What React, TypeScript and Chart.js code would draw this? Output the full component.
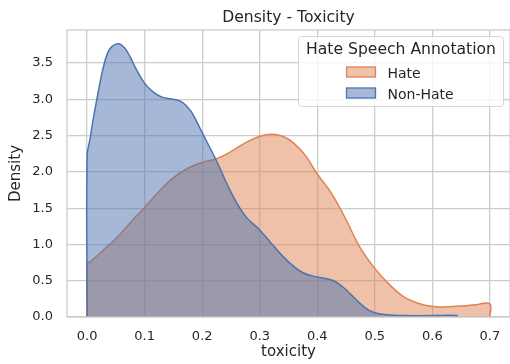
import React, { useEffect, useRef } from "react";
import { Chart, registerables } from "chart.js";

Chart.register(...registerables);

const chartTitle = "Density - Toxicity";
const xAxisLabel = "toxicity";
const yAxisLabel = "Density";
const legendTitle = "Hate Speech Annotation";
const seriesLabels = ["Hate", "Non-Hate"];

// Hate (orange) KDE curve
const hateX = [0, 0, 0.005, 0.025, 0.05, 0.075, 0.1, 0.125, 0.15, 0.175, 0.2, 0.225, 0.25, 0.275, 0.3, 0.32, 0.34, 0.36, 0.38, 0.4, 0.425, 0.45, 0.475, 0.5, 0.525, 0.55, 0.575, 0.6, 0.625, 0.65, 0.675, 0.7, 0.7];
const hateY = [0, 0.74, 0.76, 0.9, 1.08, 1.3, 1.51, 1.73, 1.92, 2.05, 2.13, 2.18, 2.28, 2.4, 2.49, 2.52, 2.49, 2.39, 2.22, 1.97, 1.7, 1.34, 0.95, 0.67, 0.45, 0.28, 0.19, 0.145, 0.14, 0.15, 0.17, 0.18, 0];

// Non-Hate (blue) KDE curve
const nonHateX = [0, 0, 0.005, 0.01, 0.02, 0.03, 0.04, 0.054, 0.065, 0.075, 0.085, 0.1, 0.115, 0.13, 0.15, 0.165, 0.18, 0.19, 0.2, 0.225, 0.25, 0.275, 0.3, 0.325, 0.35, 0.375, 0.4, 0.425, 0.445, 0.47, 0.49, 0.51, 0.55, 0.6, 0.643, 0.643];
const nonHateY = [0, 2.23, 2.45, 2.7, 3.13, 3.5, 3.7, 3.767, 3.71, 3.58, 3.42, 3.22, 3.1, 3.03, 3.0, 2.96, 2.84, 2.7, 2.54, 2.15, 1.72, 1.39, 1.2, 0.97, 0.76, 0.61, 0.55, 0.51, 0.41, 0.22, 0.09, 0.04, 0.02, 0.02, 0.02, 0];

const xRange = [-0.035, 0.735];
const yRange = [0, 3.955];
const xStep = 0.1;
const yStep = 0.5;

const colors = ["#DD8452", "#4C72B0"];
const fills = ["rgba(221,132,82,0.5)", "rgba(76,114,176,0.5)"];

const FONT = "'DejaVu Sans', sans-serif";
const TEXT = "#262626";
const GRID = "#cccccc";

const toPoints = (xs: number[], ys: number[]) => xs.map((x, i) => ({ x, y: ys[i] }));

const decorPlugin = {
  id: "decor",
  afterDatasetsDraw(chart: any) {
    const { ctx, chartArea: a } = chart;
    ctx.save();
    ctx.strokeStyle = GRID;
    ctx.lineWidth = 1.3;
    ctx.strokeRect(a.left, a.top, a.right - a.left, a.bottom - a.top);
    ctx.restore();
  },
  afterDraw(chart: any) {
    const { ctx, chartArea: a } = chart;
    ctx.save();
    ctx.fillStyle = TEXT;
    ctx.font = `15.6px ${FONT}`;
    ctx.textAlign = "center";
    ctx.textBaseline = "alphabetic";
    ctx.fillText(chartTitle, (a.left + a.right) / 2, 22);

    const bx = a.right - 211.5;
    const by = a.top + 6.5;
    const bw = 205;
    const bh = 70;
    ctx.beginPath();
    if ((ctx as any).roundRect) (ctx as any).roundRect(bx, by, bw, bh, 3);
    else ctx.rect(bx, by, bw, bh);
    ctx.fillStyle = "rgba(255,255,255,0.8)";
    ctx.fill();
    ctx.strokeStyle = "#d6d6d6";
    ctx.lineWidth = 1;
    ctx.stroke();

    ctx.fillStyle = TEXT;
    ctx.font = `15.6px ${FONT}`;
    ctx.textAlign = "center";
    ctx.fillText(legendTitle, bx + bw / 2, by + 17);

    ctx.font = `14px ${FONT}`;
    ctx.textAlign = "left";
    seriesLabels.forEach((lab, i) => {
      const ry = by + 30.5 + i * 21;
      ctx.fillStyle = fills[i];
      ctx.fillRect(bx + 48, ry, 29, 10);
      ctx.strokeStyle = colors[i];
      ctx.lineWidth = 1.3;
      ctx.strokeRect(bx + 48, ry, 29, 10);
      ctx.fillStyle = TEXT;
      ctx.fillText(lab, bx + 89, ry + 10.5);
    });
    ctx.restore();
  },
};

export default function App() {
  const ref = useRef<HTMLCanvasElement | null>(null);
  useEffect(() => {
    if (!ref.current) return;
    const zeroPad = (s: any) => {
      s.paddingLeft = 0;
      s.paddingRight = 0;
      s.paddingTop = 0;
      s.paddingBottom = 0;
    };
    const chart = new Chart(ref.current, {
      type: "line",
      data: {
        datasets: [
          {
            label: seriesLabels[0],
            data: toPoints(hateX, hateY),
            borderColor: colors[0],
            backgroundColor: fills[0],
            borderWidth: 1.5,
            fill: "origin",
            pointRadius: 0,
            tension: 0.4,
            order: 2,
          },
          {
            label: seriesLabels[1],
            data: toPoints(nonHateX, nonHateY),
            borderColor: colors[1],
            backgroundColor: fills[1],
            borderWidth: 1.5,
            fill: "origin",
            pointRadius: 0,
            tension: 0.4,
            order: 1,
          },
        ],
      },
      options: {
        animation: false,
        responsive: false,
        devicePixelRatio: 1,
        layout: { padding: { top: 30, left: 0, right: 0, bottom: 0 } },
        plugins: {
          legend: { display: false },
          title: { display: false },
          tooltip: { enabled: false },
        },
        scales: {
          x: {
            type: "linear",
            min: xRange[0],
            max: xRange[1],
            border: { display: false },
            grid: { color: GRID, lineWidth: 1.3, drawTicks: false },
            ticks: {
              stepSize: xStep,
              includeBounds: false,
              padding: 12,
              color: TEXT,
              font: { family: FONT, size: 13 },
              maxRotation: 0,
              autoSkip: false,
              callback: (v: any) => Number(v).toFixed(1),
            },
            title: {
              display: true,
              text: xAxisLabel,
              color: TEXT,
              font: { family: FONT, size: 15 },
              padding: { top: 0, bottom: 3 },
            },
            afterFit: (s: any) => {
              s.height = 47;
              zeroPad(s);
            },
          },
          y: {
            type: "linear",
            min: yRange[0],
            max: yRange[1],
            border: { display: false },
            grid: { color: GRID, lineWidth: 1.3, drawTicks: false },
            ticks: {
              stepSize: yStep,
              includeBounds: false,
              padding: 14,
              color: TEXT,
              font: { family: FONT, size: 13 },
              callback: (v: any) => Number(v).toFixed(1),
            },
            title: {
              display: true,
              text: yAxisLabel,
              color: TEXT,
              font: { family: FONT, size: 15 },
              padding: { top: 7, bottom: 0 },
            },
            afterFit: (s: any) => {
              s.width = 67;
              zeroPad(s);
            },
          },
        },
      },
      plugins: [decorPlugin],
    });
    return () => chart.destroy();
  }, []);
  return (
    <div style={{ position: "fixed", left: 0, top: 0, width: 510, height: 364, background: "#fff" }}>
      <canvas ref={ref} width={510} height={364} />
    </div>
  );
}
